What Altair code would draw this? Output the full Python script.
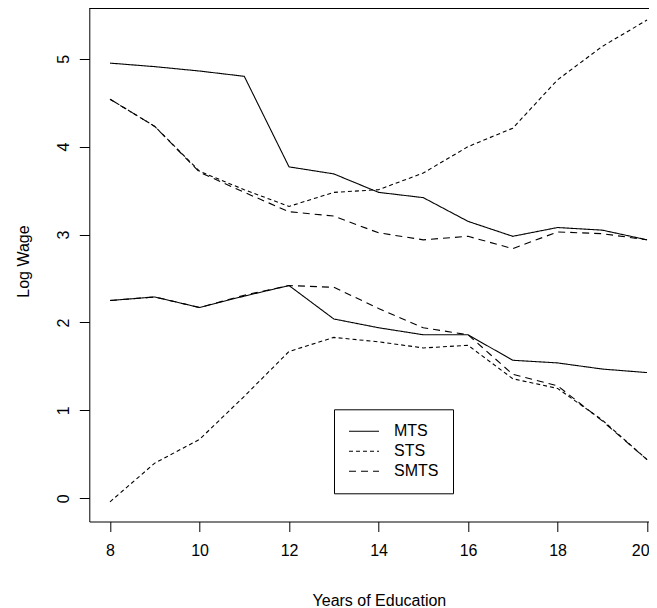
import altair as alt
import pandas as pd

# ---- data ----
years = list(range(8, 21))
mts_upper = [4.95, 4.91, 4.86, 4.80, 3.77, 3.69, 3.48, 3.42, 3.15, 2.98, 3.08, 3.05, 2.94]
mts_lower = [2.25, 2.29, 2.17, 2.30, 2.42, 2.04, 1.94, 1.86, 1.86, 1.57, 1.54, 1.47, 1.43]
sts_upper = [4.54, 4.23, 3.72, 3.51, 3.32, 3.48, 3.51, 3.70, 4.00, 4.21, 4.76, 5.14, 5.44]
sts_lower = [-0.04, 0.40, 0.67, 1.16, 1.67, 1.83, 1.78, 1.71, 1.74, 1.36, 1.25, 0.89, 0.44]
smts_upper = [4.54, 4.23, 3.71, 3.48, 3.26, 3.21, 3.02, 2.94, 2.98, 2.84, 3.03, 3.01, 2.94]
smts_lower = [2.25, 2.29, 2.17, 2.31, 2.42, 2.40, 2.16, 1.94, 1.86, 1.41, 1.28, 0.88, 0.44]

methods = ["MTS", "STS", "SMTS"]
x_ticks = [8, 10, 12, 14, 16, 18, 20]
y_ticks = [0, 1, 2, 3, 4, 5]

series = {
    ("MTS", "upper"): mts_upper,
    ("MTS", "lower"): mts_lower,
    ("STS", "upper"): sts_upper,
    ("STS", "lower"): sts_lower,
    ("SMTS", "upper"): smts_upper,
    ("SMTS", "lower"): smts_lower,
}
rows = []
for (m, b), vals in series.items():
    for x, v in zip(years, vals):
        rows.append({"years": x, "wage": v, "method": m, "bound": b, "key": m + "_" + b})
df = pd.DataFrame(rows)

FONT = "Liberation Sans"
W, H = 559.7, 513.5

lines = alt.Chart(df).mark_line(color="black", strokeWidth=1.1, clip=True).encode(
    x=alt.X("years:Q",
            scale=alt.Scale(domain=[7.537, 20.044], nice=False, zero=False),
            axis=alt.Axis(values=x_ticks, title="Years of Education", grid=False,
                          tickSize=10, tickColor="black", domainColor="black",
                          labelFontSize=16, labelFont=FONT, labelColor="black",
                          labelPadding=10.5, labelBaseline="top",
                          labelFlush=5, labelFlushOffset=2,
                          titleFontSize=16, titleFont=FONT, titleFontWeight="normal",
                          titleColor="black", titleX=289.6, titleY=84,
                          titleAlign="center", titleBaseline="alphabetic")),
    y=alt.Y("wage:Q",
            scale=alt.Scale(domain=[-0.264, 5.577], nice=False, zero=False),
            axis=alt.Axis(values=y_ticks, title="Log Wage", grid=False,
                          tickSize=10, tickColor="black", domainColor="black",
                          labelFontSize=16, labelFont=FONT, labelColor="black",
                          labelPadding=10.5, labelAngle=270, labelAlign="center",
                          labelBaseline="alphabetic", labelFlush=False,
                          titleFontSize=16, titleFont=FONT, titleFontWeight="normal",
                          titleColor="black", titleAngle=270, titleX=-61, titleY=253,
                          titleAlign="center", titleBaseline="alphabetic")),
    strokeDash=alt.StrokeDash("method:N",
                              scale=alt.Scale(domain=methods, range=[[1, 0], [4, 3], [7, 5]]),
                              legend=alt.Legend(orient="none", legendX=244.7, legendY=401.3,
                                                title=None, symbolType="M-1.4,0H4.6", symbolSize=100,
                                                symbolStrokeColor="black", symbolStrokeWidth=1.1,
                                                labelFontSize=16, labelFont=FONT, labelColor="black",
                                                labelOffset=30, rowPadding=4, padding=14,
                                                strokeColor="black", fillColor="white")),
    detail="key:N",
    order="years:Q",
)

top_border = alt.Chart(pd.DataFrame({"a": [0]})).mark_rule(color="black", strokeWidth=1).encode(
    x=alt.value(0), x2=alt.value(W), y=alt.value(0.5)
)

chart = alt.layer(lines, top_border).properties(
    width=W, height=H,
    autosize=alt.AutoSizeParams(type="none"),
    padding={"left": 81.3, "top": 0, "right": 0, "bottom": 86.5},
    background="white",
).configure_view(strokeWidth=0)

chart.save("out.html", embed_options={"renderer": "svg", "actions": False})
